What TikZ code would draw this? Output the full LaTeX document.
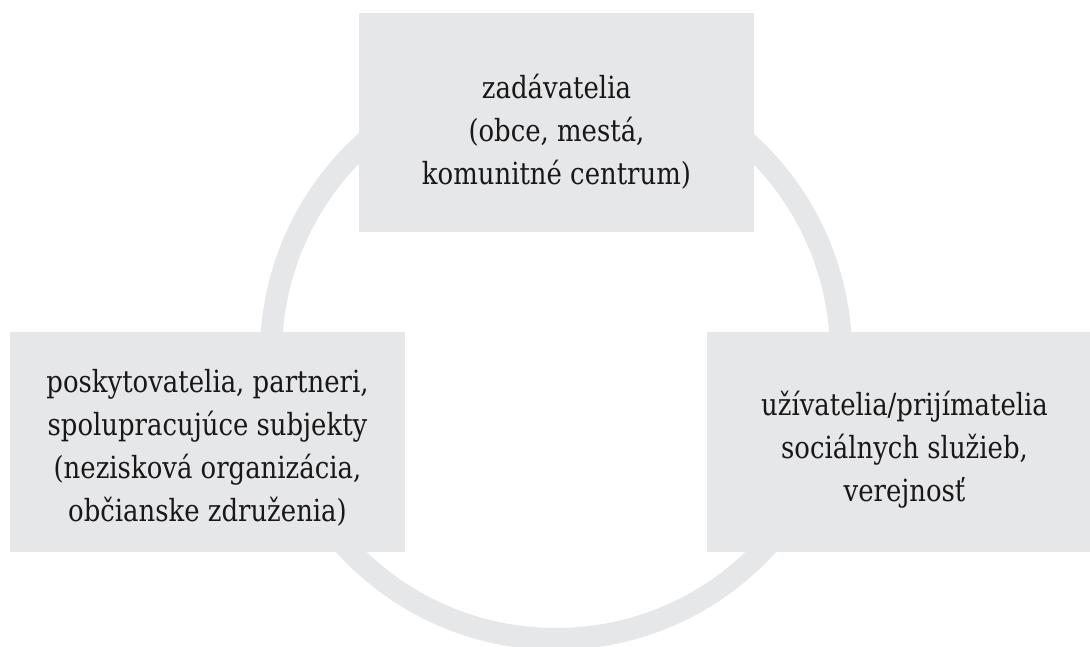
\documentclass[tikz,border=0pt]{standalone}
\usepackage{fontspec}
\setmainfont{DejaVu Serif}[FakeStretch=0.85]
\usepackage{xcolor}
\usepackage{tikz}
\usetikzlibrary{positioning}

\definecolor{ringgray}{HTML}{E6E7E8}
\definecolor{textdark}{HTML}{1A1718}

\tikzset{
	graybox/.style={fill=ringgray,rectangle,inner sep=0pt,minimum width=395pt,minimum height=220pt},
	boxtext/.style={align=center,text=textdark,font=\fontsize{30.5}{43}\selectfont,inner sep=0pt}
}

\begin{document}
\begin{tikzpicture}[x=1pt,y=1pt]
		\useasboundingbox (0,0) rectangle (1090,646);
		\clip (0,0) rectangle (1090,646);
		% ring behind the boxes
		\draw[ringgray,line width=22pt] (556,292) circle (285);
		% boxes
		\node[graybox,minimum height=219pt] (zadav) at (556.5,523.5) {};
		\node[graybox] (posky) at (207.5,204) {};
		\node[graybox] (uziv) at (904.5,204) {};
		% texts
		\node[boxtext] (zadavtxt) at ([yshift=-9pt]zadav.center) {zadávatelia\\(obce, mestá,\\komunitné centrum)};
		\node[boxtext] (poskytxt) at ([yshift=-6pt]posky.center) {poskytovatelia, partneri,\\spolupracujúce subjekty\\(nezisková organizácia,\\občianske združenia)};
		\node[boxtext] (uzivtxt) at ([yshift=-8pt]uziv.center) {užívatelia/prijímatelia\\sociálnych služieb,\\verejnosť};
	\end{tikzpicture}
\end{document}
